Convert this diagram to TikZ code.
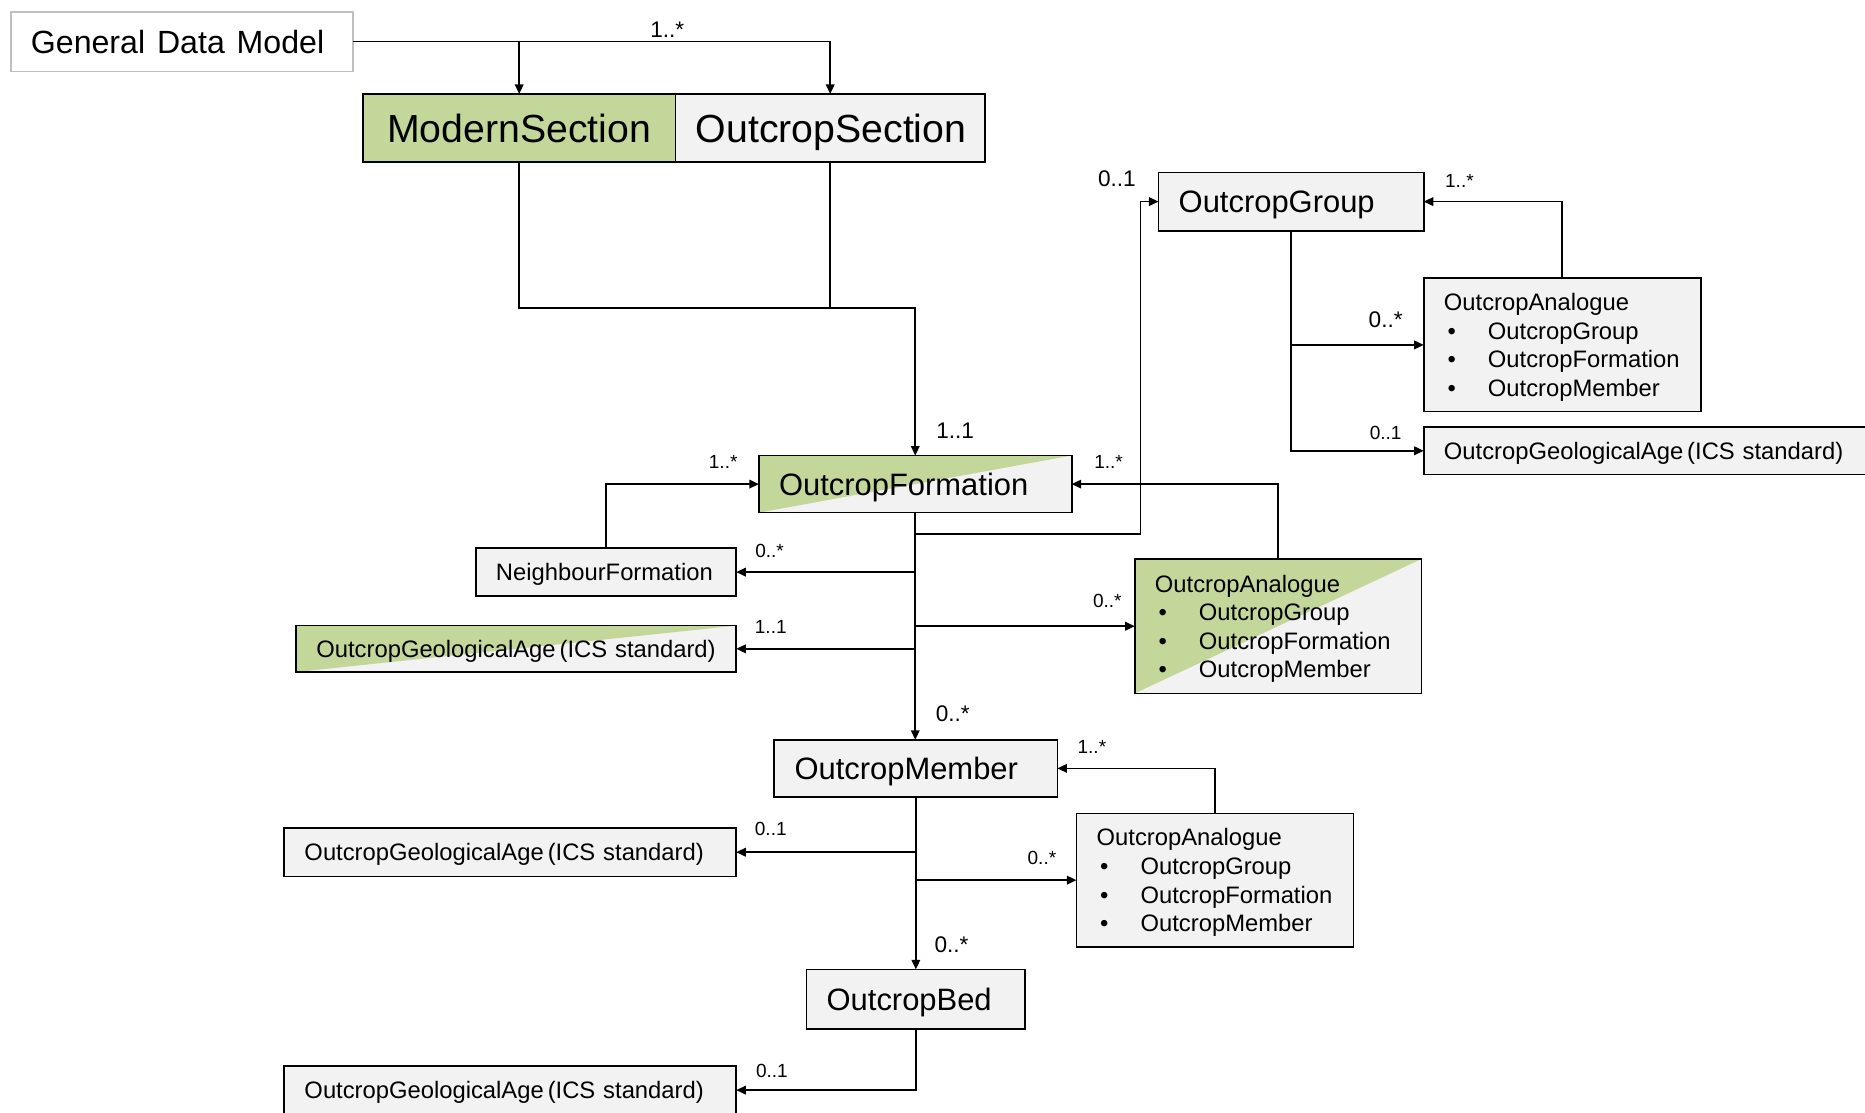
\documentclass[tikz,border=0pt]{standalone}
\usepackage{fontspec}
\setmainfont{Liberation Sans}
\usetikzlibrary{arrows.meta}
\definecolor{olivefill}{RGB}{196,215,155}
\definecolor{boxgray}{RGB}{242,242,242}
\definecolor{framegray}{RGB}{191,191,191}

\begin{document}
\begin{tikzpicture}[x=0.5pt, y=-0.5pt,
  bigfont/.style={font=\fontsize{16.5}{19}\selectfont},
  medfont/.style={font=\fontsize{13}{15}\selectfont},
  smallfont/.style={font=\fontsize{10}{12}\selectfont},
  cls/.style n args={2}{draw=black, line width=0.7pt, fill=boxgray,
    anchor=north west, inner ysep=0pt, inner xsep=8.5pt, outer sep=0pt,
    minimum width=#1*0.5pt, minimum height=#2*0.5pt,
    text width={(#1-34)*0.5pt}, align=left},
  oneline/.style={text depth=0pt},
  listbox/.style={text depth=36pt},
  split/.style={path picture={\fill[olivefill]
    (path picture bounding box.south west) --
    (path picture bounding box.north west) --
    (path picture bounding box.north east) -- cycle;}},
  arr/.style={-{Triangle[length=4pt,width=3.6pt]}, line width=0.7pt},
  ln/.style={line width=0.7pt},
  lab/.style={font=\fontsize{8}{9}\selectfont, inner sep=0pt},
  labbig/.style={font=\fontsize{9.5}{11}\selectfont, inner sep=0pt}]

\clip (0,0) rectangle (1568,935);

% bullet list entry
\newcommand\itm[1]{\makebox[18.5pt][l]{\hspace{1.5pt}\textbullet}#1}
\newcommand\agecls{\mbox{OutcropGeologicalAge\,(ICS standard)}}

% ---------- classes ----------
\node[cls={288}{50}, fill=white, draw=framegray, font=\fontsize{13.5}{15}\selectfont] (gdm) at (9,10)
  {\mbox{General\hspace{5pt}Data\hspace{5pt}Model}};
\node[cls={263}{57}, fill=olivefill, bigfont, align=center, oneline] (ms) at (305,79) {ModernSection};
\node[cls={260}{57}, bigfont, align=center, oneline] (os) at (568,79) {OutcropSection};

\node[cls={223}{49}, medfont, oneline] (og) at (974,145) {OutcropGroup};
\node[cls={233}{112}, smallfont, listbox] (oa0) at (1197,234)
  {OutcropAnalogue\\ \itm{OutcropGroup}\\ \itm{OutcropFormation}\\ \itm{OutcropMember}};
\node[cls={380}{40}, smallfont, oneline] (oga0) at (1197,359) {\agecls};

\node[cls={263}{48}, medfont, split, oneline] (of) at (638,383) {OutcropFormation};
\node[cls={219}{40}, smallfont, oneline] (nf) at (400,461) {NeighbourFormation};
\node[cls={370}{39}, smallfont, split, oneline] (oga1) at (249,526) {\agecls};
\node[cls={241}{113}, smallfont, split, listbox] (oa1) at (954,470)
  {OutcropAnalogue\\ \itm{OutcropGroup}\\ \itm{OutcropFormation}\\ \itm{OutcropMember}};

\node[cls={238}{48}, medfont, oneline] (om) at (651,622) {OutcropMember};
\node[cls={380}{41}, smallfont, oneline] (oga2) at (239,696) {\agecls};
\node[cls={233}{112}, smallfont, listbox] (oa2) at (905,684)
  {OutcropAnalogue\\ \itm{OutcropGroup}\\ \itm{OutcropFormation}\\ \itm{OutcropMember}};

\node[cls={184}{50}, medfont, oneline] (ob) at (678,815) {OutcropBed};
\node[cls={380}{41}, smallfont, oneline] (oga3) at (239,896) {\agecls};

% ---------- associations ----------
\draw[arr] (gdm.east) -| (os.north);
\draw[arr] (gdm.east -| ms.north) -- (ms.north);

\coordinate (jsec) at (770,259);
\draw[arr] (ms.south) |- (of.north |- jsec) -- (of.north);
\draw[ln] (os.south) -- (os.south |- jsec);

\coordinate (jgrp) at (959,449);
\draw[arr] (of.south) -- (of.south |- om.north);
\draw[arr] (of.south |- jgrp) -- (jgrp) |- (og.west);
\draw[arr] (of.south |- nf.east) -- (nf.east);
\draw[arr] (nf.north) |- (of.west);
\draw[arr] (of.south |- oga1.east) -- (oga1.east);
\draw[arr] (of.south |- oa1.west) -- (oa1.west);
\draw[arr] (oa1.north) |- (of.east);

\draw[arr] (og.south) |- (oga0.west);
\draw[arr] (og.south |- oa0.west) -- (oa0.west);
\draw[arr] (oa0.north) |- (og.east);

\draw[arr] (om.south) -- (om.south |- ob.north);
\draw[arr] (om.south |- oga2.east) -- (oga2.east);
\draw[arr] (om.south |- oa2.west) -- (oa2.west);
\draw[arr] (oa2.north) |- (om.east);

\draw[arr] (ob.south) |- (oga3.east);

% ---------- multiplicities ----------
\node[labbig] (m1) at (561,25) {1..*};
\node[labbig] (m2) at (939,150) {0..1};
\node[lab] (m3) at (1227,152) {1..*};
\node[labbig] (m4) at (1165,269) {0..*};
\node[lab] (m5) at (1165,364) {0..1};
\node[labbig] (m6) at (803,362) {1..1};
\node[lab] (m7) at (608,388) {1..*};
\node[lab] (m8) at (932,388) {1..*};
\node[lab] (m9) at (647,463) {0..*};
\node[lab] (m10) at (648,527) {1..1};
\node[lab] (m11) at (931,505) {0..*};
\node[labbig] (m12) at (801,600) {0..*};
\node[lab] (m13) at (918,628) {1..*};
\node[lab] (m14) at (648,697) {0..1};
\node[lab] (m15) at (876,721) {0..*};
\node[labbig] (m16) at (800,794) {0..*};
\node[lab] (m17) at (649,900) {0..1};
\end{tikzpicture}
\end{document}
